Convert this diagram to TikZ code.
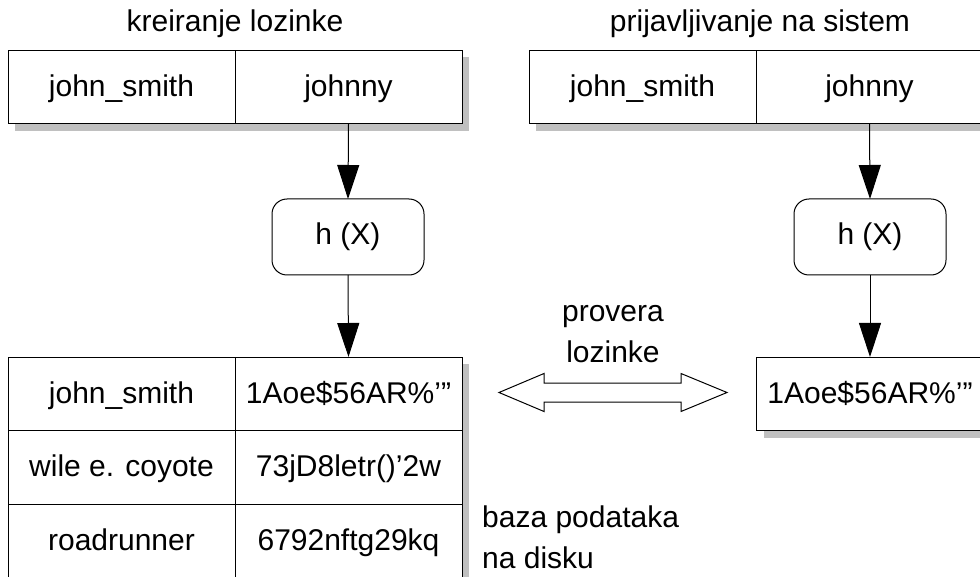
\documentclass[tikz,border=0pt]{standalone}
\usepackage{fontspec}
\setmainfont{Liberation Sans}
\usetikzlibrary{positioning,arrows.meta,shadows}
\definecolor{shadegray}{HTML}{C0C0C0}

\begin{document}
\begin{tikzpicture}[x=1pt,y=-1pt,
  font=\fontsize{30}{41}\selectfont,
  cell/.style={draw,fill=white,line width=1pt,minimum width=227pt,minimum height=73.5pt,
    inner sep=0pt,outer sep=0pt,text height=22pt,text depth=3pt,
    drop shadow={shadow xshift=7pt,shadow yshift=-7pt,fill=shadegray,opacity=1}},
  hashbox/.style={draw,fill=white,rounded corners=15pt,line width=1pt,minimum width=152pt,
    minimum height=76pt,inner sep=0pt,outer sep=0pt},
  flow/.style={line width=1pt,-{Triangle[length=34pt,width=22pt]}},
  note/.style={inner sep=0pt}]
\path[use as bounding box] (0,0) rectangle (980,577);
\clip (0,0) rectangle (980,577);

% Titles
\node[note,anchor=base] (title1) at (235,32) {kreiranje lozinke};
\node[note,anchor=base] (title2) at (760,32) {prijavljivanje na sistem};

% User name and password, left
\node[cell] (user1) at (121.5,87) {john\_smith};
\node[cell,right=0pt of user1] (pass1) {johnny};

% User name and password, right
\node[cell] (user2) at (642.5,87) {john\_smith};
\node[cell,right=0pt of user2] (pass2) {johnny};

% Hash functions
\node[hashbox] (hash1) at (348,237) {h (X)};
\node[hashbox] (hash2) at (870,237) {h (X)};

% Stored table
\node[cell] (name1) at (121.5,393.75) {john\_smith};
\node[cell,right=0pt of name1] (code1) {1Aoe\$56AR\%'”};
\node[cell,below=0pt of name1] (name2) {wile e. coyote};
\node[cell,right=0pt of name2] (code2) {73jD8letr()'2w};
\node[cell,below=0pt of name2] (name3) {roadrunner};
\node[cell,right=0pt of name3] (code3) {6792nftg29kq};

% Computed hash
\node[cell] (result) at (870,393.75) {1Aoe\$56AR\%'”};

% Flow
\draw[flow] (pass1.south) -- (hash1.north);
\draw[flow] (hash1.south) -- (code1.north);
\draw[flow] (pass2.south) -- (hash2.north);
\draw[flow] (hash2.south) -- (result.north);

% Comparison arrow
\coordinate (check) at (613,392.5);
\draw[line width=1pt] (check) +(-114,0) -- +(-69,-19) -- +(-69,-9.5) -- +(68,-9.5)
  -- +(68,-19) -- +(114,0) -- +(68,19) -- +(68,9.5) -- +(-69,9.5) -- +(-69,19) -- cycle;
\node[note,align=center] (checktext) at (613,334) {provera\\lozinke};

\node[note,align=left,anchor=west] (dbtext) at (482,537) {baza podataka\\na disku};
\end{tikzpicture}
\end{document}
